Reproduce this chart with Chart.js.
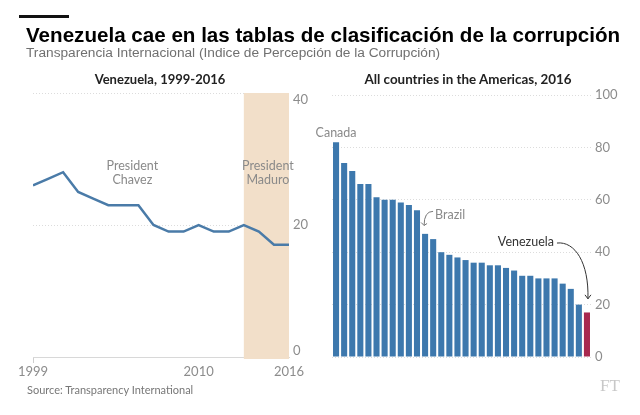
<!DOCTYPE html>
<html>
<head>
<meta charset="utf-8">
<script src="https://cdn.jsdelivr.net/npm/chart.js@4.4.0/dist/chart.umd.min.js"></script>
<style>
  html, body { margin: 0; padding: 0; background: #fff; }
  body { width: 640px; height: 415px; position: relative; overflow: hidden; }
  .box { position: absolute; top: 0; height: 415px; }
  .txt { position: absolute; white-space: nowrap; z-index: 2; }
  #bar { position: absolute; left: 19px; top: 15px; width: 50px; height: 3px; background: #111; }
  #title { left: 26px; top: 24px; font: bold 20.6px "Liberation Sans", Arial, sans-serif; line-height: 22px; color: #000; }
  #subtitle { left: 26px; top: 45px; font: 13.7px "Liberation Sans", Arial, sans-serif; line-height: 16px; color: #707070; }
  .panel { top: 71px; font: bold 13px Lato, sans-serif; line-height: 16px; color: #222; transform: translateX(-50%); }
  #source { left: 27px; top: 383px; font: 11px Lato, sans-serif; line-height: 14px; color: #777; }
  #ft { left: 600px; top: 376px; font: 17px "Liberation Serif", serif; line-height: 20px; color: #c8c8c8; }
</style>
</head>
<body>
<div id="bar"></div>
<div class="txt" id="title">Venezuela cae en las tablas de clasificación de la corrupción</div>
<div class="txt" id="subtitle">Transparencia Internacional (Indice de Percepción de la Corrupción)</div>
<div class="txt panel" style="left:160px">Venezuela, 1999-2016</div>
<div class="txt panel" style="left:468px; font-size:13.4px">All countries in the Americas, 2016</div>
<div class="txt" id="source">Source: Transparency International</div>
<div class="txt" id="ft">FT</div>

<div class="box" style="left:0; width:320px"><canvas id="lineChart"></canvas></div>
<div class="box" style="left:300px; width:340px"><canvas id="barChart"></canvas></div>

<script>
// Left panel: Venezuela score by year
const years = [1999, 2000, 2001, 2002, 2003, 2004, 2005, 2006, 2007, 2008,
               2009, 2010, 2011, 2012, 2013, 2014, 2015, 2016];
const venezuelaScore = [26, 27, 28, 25, 24, 23, 23, 23, 20, 19,
                        19, 20, 19, 19, 20, 19, 17, 17];
const yearTicks = [1999, 2010, 2016];
const maduroFrom = 2013;
const maduroTo = 2016;

// Right panel: all countries in the Americas, 2016
const countries = ["Canada", "United States", "Uruguay", "Bahamas", "Chile", "Barbados",
  "St Lucia", "St Vincent", "Dominica", "Costa Rica", "Grenada", "Brazil", "Suriname",
  "Cuba", "Jamaica", "Panama", "Colombia", "Argentina", "El Salvador", "Peru",
  "Trinidad and Tobago", "Guyana", "Bolivia", "Ecuador", "Dominican Republic", "Mexico",
  "Paraguay", "Honduras", "Guatemala", "Nicaragua", "Haiti", "Venezuela"];
const scores2016 = [82, 74, 71, 66, 66, 61, 60, 60, 59, 58, 56, 47, 45, 40, 39, 38,
                    37, 36, 36, 35, 35, 34, 33, 31, 31, 30, 30, 30, 28, 26, 20, 17];

const tickFont = { family: "Lato", size: 13 };
const tickColor = "#8c8c8c";
const gridColor = "#dcdcdc";
const blue = "#3d78ad";
const red = "#a8294f";

// band + notes + y labels (end labels pulled inside, like the original)
const bandPlugin = {
  id: "band",
  beforeDatasetsDraw(chart) {
    const { ctx, chartArea, scales } = chart;
    const x0 = scales.x.getPixelForValue(maduroFrom);
    const x1 = scales.x.getPixelForValue(maduroTo);
    ctx.save();
    ctx.fillStyle = "#f2dfc9";
    ctx.fillRect(x0, chartArea.top, x1 - x0, chartArea.bottom - chartArea.top + 2);
    ctx.restore();
  },
  afterDatasetsDraw(chart) {
    const { ctx, scales, chartArea } = chart;
    ctx.save();
    ctx.font = "12.5px Lato";
    ctx.fillStyle = "#8a8a8a";
    ctx.textAlign = "center";
    ctx.textBaseline = "middle";
    const labelAt = (txt1, txt2, year) => {
      const x = scales.x.getPixelForValue(year);
      ctx.fillText(txt1, x, scales.y.getPixelForValue(28.9));
      ctx.fillText(txt2, x, scales.y.getPixelForValue(26.8));
    };
    labelAt("President", "Chavez", 2005.6);
    labelAt("President", "Maduro", 2014.6);

    // y tick labels
    ctx.font = "13px Lato";
    ctx.fillStyle = tickColor;
    ctx.textAlign = "left";
    scales.y.ticks.forEach(t => {
      let y = scales.y.getPixelForValue(t.value);
      y = Math.min(Math.max(y, chartArea.top + 7), chartArea.bottom - 6);
      ctx.fillText(String(t.value), chartArea.right + 4, y);
    });
    ctx.restore();
  }
};

// annotations on the bar panel
const notesPlugin = {
  id: "notes",
  afterDatasetsDraw(chart) {
    const { ctx, scales } = chart;
    const xs = scales.x, ys = scales.y;
    const barX = name => xs.getPixelForValue(countries.indexOf(name));
    ctx.save();
    ctx.font = "12.5px Lato";
    ctx.textBaseline = "middle";

    // Canada
    ctx.fillStyle = "#8a8a8a";
    ctx.textAlign = "center";
    ctx.fillText("Canada", barX("Canada"), ys.getPixelForValue(85.5));

    // Brazil
    const bx = barX("Brazil");
    ctx.textAlign = "left";
    ctx.fillText("Brazil", bx + 10, ys.getPixelForValue(54.3));
    ctx.strokeStyle = "#777";
    ctx.lineWidth = 1;
    ctx.beginPath();
    const b0x = bx + 8, b0y = ys.getPixelForValue(55.6);
    const b1x = bx - 1, b1y = ys.getPixelForValue(50.2);
    ctx.moveTo(b0x, b0y);
    ctx.quadraticCurveTo(bx - 1, b0y, b1x, b1y);
    ctx.moveTo(b1x - 3, b1y - 3);
    ctx.lineTo(b1x, b1y);
    ctx.lineTo(b1x + 3, b1y - 2);
    ctx.stroke();

    // Venezuela
    const vx = barX("Venezuela");
    ctx.fillStyle = "#333";
    ctx.textAlign = "right";
    ctx.fillText("Venezuela", vx - 33, ys.getPixelForValue(44));
    ctx.strokeStyle = "#333";
    ctx.beginPath();
    const v0x = vx - 30, v0y = ys.getPixelForValue(43.5);
    const v1x = vx + 1, v1y = ys.getPixelForValue(22.2);
    ctx.moveTo(v0x, v0y);
    ctx.bezierCurveTo(vx - 12, v0y - 2, vx + 2, ys.getPixelForValue(36), v1x, v1y);
    ctx.moveTo(v1x - 3, v1y - 4);
    ctx.lineTo(v1x, v1y);
    ctx.lineTo(v1x + 3, v1y - 4);
    ctx.stroke();
    ctx.restore();
  }
};

new Chart(document.getElementById("lineChart"), {
  type: "line",
  data: {
    datasets: [{
      data: years.map((y, i) => ({ x: y, y: venezuelaScore[i] })),
      borderColor: "#4a7ba8",
      borderWidth: 2.5,
      pointRadius: 0,
      tension: 0
    }]
  },
  options: {
    responsive: true,
    maintainAspectRatio: false,
    animation: false,
    events: [],
    layout: { padding: { left: 33, top: 93, right: 0, bottom: 35 } },
    plugins: { legend: { display: false }, tooltip: { enabled: false } },
    scales: {
      x: {
        type: "linear",
        min: 1999,
        max: 2016,
        afterBuildTicks: s => { s.ticks = yearTicks.map(v => ({ value: v })); },
        afterFit: s => { s.height = 23; },
        ticks: { callback: v => String(v), color: tickColor, font: tickFont, padding: 1, maxRotation: 0, autoSkip: false },
        grid: { drawOnChartArea: false, tickLength: 6, tickColor: c => c.index === 0 ? "#cfcfcf" : "rgba(0,0,0,0)" },
        border: { color: "#d8d8d8" }
      },
      y: {
        position: "right",
        min: 0,
        max: 40,
        afterFit: s => { s.width = 31; },
        ticks: { stepSize: 20, display: false },
        grid: { color: gridColor, drawTicks: false },
        border: { display: false, dash: [1, 2] }
      }
    }
  },
  plugins: [bandPlugin]
});

new Chart(document.getElementById("barChart"), {
  type: "bar",
  data: {
    labels: countries,
    datasets: [{
      data: scores2016,
      backgroundColor: countries.map(c => c === "Venezuela" ? red : blue),
      barPercentage: 0.75,
      categoryPercentage: 1
    }]
  },
  options: {
    responsive: true,
    maintainAspectRatio: false,
    animation: false,
    events: [],
    layout: { padding: { left: 32, top: 95, right: 0, bottom: 58 } },
    plugins: { legend: { display: false }, tooltip: { enabled: false } },
    scales: {
      x: { display: false },
      y: {
        position: "right",
        min: 0,
        max: 100,
        afterFit: s => { s.width = 49; },
        ticks: { stepSize: 20, color: tickColor, font: tickFont, padding: 4 },
        grid: { color: gridColor, drawTicks: false },
        border: { display: false, dash: [1, 2] }
      }
    }
  },
  plugins: [notesPlugin]
});
</script>
</body>
</html>
